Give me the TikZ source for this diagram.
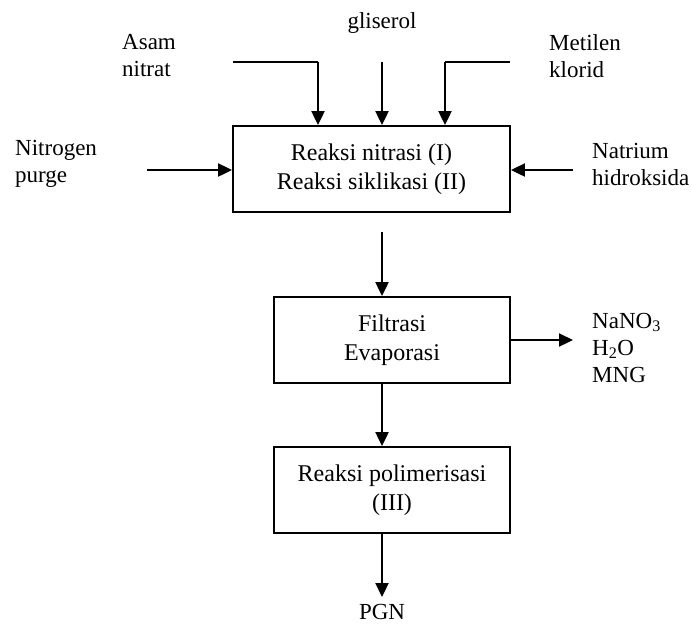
\documentclass[tikz,border=0pt]{standalone}
\usepackage{fontspec}
\setmainfont{Liberation Serif}
\usetikzlibrary{arrows.meta}
\begin{document}
\begin{tikzpicture}[x=1pt,y=-1pt,
  txt/.style={font=\fontsize{23}{27}\selectfont, inner sep=0pt},
  procbox/.style={draw, line width=1.9pt, minimum width=#1, minimum height=86pt, align=center, txt, font=\fontsize{24}{29}\selectfont},
  flow/.style={line width=2.2pt, -{Triangle[length=14pt,width=13pt]}},
  line/.style={line width=2.2pt}]
\useasboundingbox (0,0) rectangle (692,633);
% boxes
\node[procbox=277pt] (b1) at (371.5,169) {Reaksi nitrasi (I)\\Reaksi siklikasi (II)};
\node[procbox=236pt] (b2) at (392,340) {Filtrasi\\Evaporasi};
\node[procbox=236pt] (b3) at (392,490) {Reaksi polimerisasi\\(III)};
% labels (base = baseline of last line)
\node[txt, align=left, anchor=base west] (asam) at (122,76) {Asam\\nitrat};
\node[txt, anchor=base] (glis) at (382,28) {gliserol};
\node[txt, align=left, anchor=base west] (meti) at (549,77) {Metilen\\klorid};
\node[txt, align=left, anchor=base west] (nitro) at (15,182) {Nitrogen\\purge};
\node[txt, align=left, anchor=base west] (natr) at (592,185) {Natrium\\hidroksida};
\node[txt, align=left, anchor=base west] (waste) at (592,382) {NaNO\textsubscript{3}\\H\textsubscript{2}O\\MNG};
\node[txt, anchor=base] (pgn) at (382,619) {PGN};
% coordinates
\coordinate (a0) at (233,62);
\coordinate (a1) at (318,62);
\coordinate (g0) at (382,62);
\coordinate (m0) at (510,62);
\coordinate (m1) at (445,62);
\coordinate (n0) at (147,170);
\coordinate (h0) at (573,170);
\coordinate (c1) at (382,232);
\coordinate (o1) at (573,340);
\coordinate (p1) at (382,597);
% connectors
\draw[line] (a0) -- (a1);
\draw[flow] (a1) -- (a1 |- b1.north);
\draw[flow] (g0) -- (g0 |- b1.north);
\draw[line] (m0) -- (m1);
\draw[flow] (m1) -- (m1 |- b1.north);
\draw[flow] (n0) -- (n0 -| b1.west);
\draw[flow] (h0) -- (h0 -| b1.east);
\draw[flow] (c1) -- (c1 |- b2.north);
\draw[flow] (b2.east) -- (o1);
\draw[flow] (c1 |- b2.south) -- (c1 |- b3.north);
\draw[flow] (c1 |- b3.south) -- (p1);
\end{tikzpicture}
\end{document}
